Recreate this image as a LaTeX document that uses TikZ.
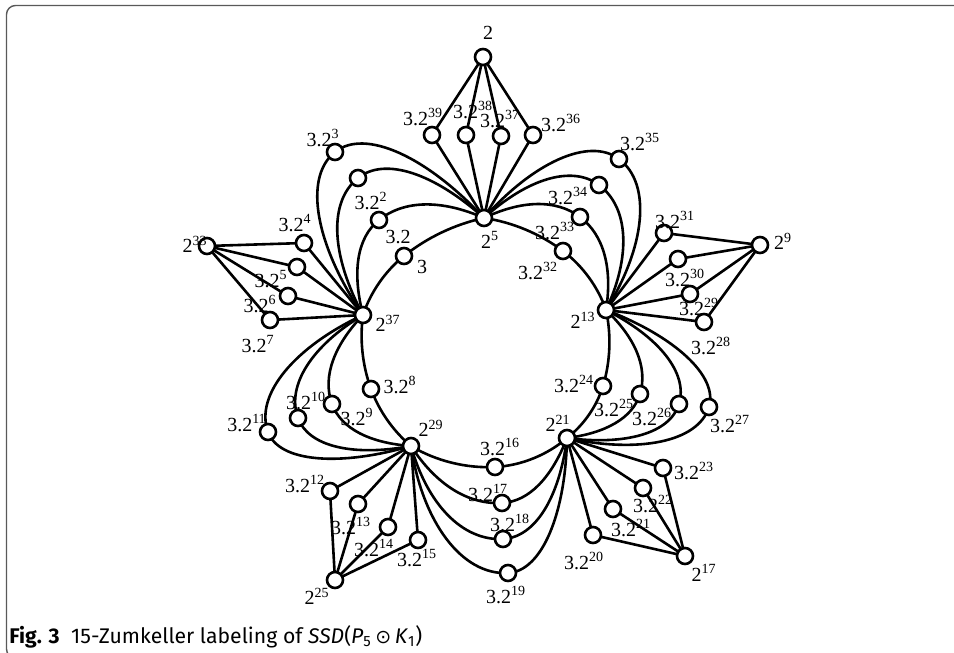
\documentclass[tikz,border=0pt]{standalone}
\usepackage{fontspec}
\setmainfont{Liberation Serif}
\newfontfamily\capfont{Fira Sans}
\newfontfamily\symfont{DejaVu Sans}
\pgfdeclarelayer{bg}
\pgfsetlayers{bg,main}
\begin{document}
\begin{tikzpicture}[x=0.5pt,y=0.5pt,
  v/.style={circle,draw,fill=white,line width=1.3pt,minimum size=8pt,inner sep=0pt},
  e/.style={line width=1.3pt},
  lab/.style={inner sep=0pt,font=\fontsize{10}{12}\selectfont},
  frame/.style={draw=gray!70!black,line width=0.7pt,rounded corners=4.5pt}]
\useasboundingbox (0,0) rectangle (954,-653);
\draw[frame] (1000,-5.5) -- (6.5,-5.5) -- (6.5,-658) -- (1000,-658);
% hubs
\node[v] (h5)  at (484,-218) {};
\node[v] (h13) at (606,-310) {};
\node[v] (h21) at (567,-438) {};
\node[v] (h29) at (411,-446) {};
\node[v] (h37) at (363,-315) {};
% outer pendant vertices
\node[v] (o2)  at (483,-57) {};
\node[v] (o9)  at (760,-245) {};
\node[v] (o17) at (685,-556) {};
\node[v] (o25) at (335,-580) {};
\node[v] (o33) at (207,-246) {};
% pendant leaves
\node[v] (l5a) at (432,-135) {};
\node[v] (l5b) at (466,-135) {};
\node[v] (l5c) at (501,-136) {};
\node[v] (l5d) at (533,-135) {};
\node[v] (l13a) at (664,-233) {};
\node[v] (l13b) at (678,-259) {};
\node[v] (l13c) at (690,-294) {};
\node[v] (l13d) at (704,-322) {};
\node[v] (l21a) at (663,-468) {};
\node[v] (l21b) at (643,-488) {};
\node[v] (l21c) at (613,-509) {};
\node[v] (l21d) at (593,-535) {};
\node[v] (l29a) at (330,-491) {};
\node[v] (l29b) at (358,-504) {};
\node[v] (l29c) at (388,-527) {};
\node[v] (l29d) at (418,-540) {};
\node[v] (l37a) at (304,-243) {};
\node[v] (l37b) at (297,-267) {};
\node[v] (l37c) at (288,-296) {};
\node[v] (l37d) at (270,-320) {};
% petal vertices
\node[v] (p1a) at (404,-256) {};
\node[v] (p1b) at (379,-220) {};
\node[v] (p1c) at (358,-178) {};
\node[v] (p1d) at (335,-152) {};
\node[v] (p2a) at (563,-251) {};
\node[v] (p2b) at (580,-217) {};
\node[v] (p2c) at (599,-185) {};
\node[v] (p2d) at (619,-159) {};
\node[v] (p3a) at (603,-386) {};
\node[v] (p3b) at (640,-394) {};
\node[v] (p3c) at (679,-404) {};
\node[v] (p3d) at (709,-407) {};
\node[v] (p4a) at (495,-467) {};
\node[v] (p4b) at (502,-503) {};
\node[v] (p4c) at (503,-539) {};
\node[v] (p4d) at (508,-573) {};
\node[v] (p5a) at (371,-389) {};
\node[v] (p5b) at (332,-404) {};
\node[v] (p5c) at (298,-418) {};
\node[v] (p5d) at (268,-432) {};
\begin{pgfonlayer}{bg}
% pendants
\foreach \o/\h/\l in {o2/h5/l5, o9/h13/l13, o17/h21/l21, o25/h29/l29, o33/h37/l37}{
  \foreach \s in {a,b,c,d}{
    \draw[e] (\o.center) -- (\l\s.center) -- (\h.center);
  }
}
% petal P1 (h37 -> h5)
\draw[e] (h37.center) .. controls +(71.7:24) and +(218.7:24) .. (p1a.center) .. controls +(38.7:29.5) and +(192:29.5) .. (h5.center);
\draw[e] (h37.center) .. controls +(104.4:43.7) and +(218.7:28.8) .. (p1b.center) .. controls +(38.7:33.2) and +(156.2:44.9) .. (h5.center);
\draw[e] (h37.center) .. controls +(118.2:67.2) and +(218.7:38.5) .. (p1c.center) .. controls +(38.7:34.4) and +(138.1:67) .. (h5.center);
\draw[e] (h37.center) .. controls +(124.3:82.8) and +(218.7:41.7) .. (p1d.center) .. controls +(38.7:38.9) and +(132.9:82.7) .. (h5.center);
% petal P2 (h5 -> h13)
\draw[e] (h5.center) .. controls +(-8.2:28.5) and +(143:28.5) .. (p2a.center) .. controls +(-37:24.4) and +(109.1:24.4) .. (h13.center);
\draw[e] (h5.center) .. controls +(25.4:41) and +(143:30.4) .. (p2b.center) .. controls +(-37:30.7) and +(80.9:41.1) .. (h13.center);
\draw[e] (h5.center) .. controls +(42.3:58.3) and +(143:33.8) .. (p2c.center) .. controls +(-37:38) and +(64.9:58.6) .. (h13.center);
\draw[e] (h5.center) .. controls +(48.5:73.4) and +(143:37.5) .. (p2d.center) .. controls +(-37:41.9) and +(58:73.5) .. (h13.center);
% petal P3 (h13 -> h21)
\draw[e] (h13.center) .. controls +(-77.7:25.4) and +(73.1:25.4) .. (p3a.center) .. controls +(-106.9:21.1) and +(37.7:21.1) .. (h21.center);
\draw[e] (h13.center) .. controls +(-43.4:39.4) and +(73.1:28.2) .. (p3b.center) .. controls +(-106.9:25.3) and +(7.2:38.7) .. (h21.center);
\draw[e] (h13.center) .. controls +(-26.9:59.3) and +(73.1:32.3) .. (p3c.center) .. controls +(-106.9:30.6) and +(-7.4:59.2) .. (h21.center);
\draw[e] (h13.center) .. controls +(-20.9:72.5) and +(73.1:32.7) .. (p3d.center) .. controls +(-106.9:36.9) and +(-12.4:72.5) .. (h21.center);
% petal P4 (h21 -> h29)
\draw[e] (h21.center) .. controls +(-139.1:25.9) and +(2.9:25.9) .. (p4a.center) .. controls +(-177.1:28.9) and +(-31.1:28.9) .. (h29.center);
\draw[e] (h21.center) .. controls +(-111.2:41.9) and +(2.9:27.3) .. (p4b.center) .. controls +(-177.1:35.2) and +(-57.2:44.1) .. (h29.center);
\draw[e] (h21.center) .. controls +(-97.2:59.5) and +(2.9:32.5) .. (p4c.center) .. controls +(-177.1:40.9) and +(-74.5:60) .. (h29.center);
\draw[e] (h21.center) .. controls +(-91.1:75.4) and +(2.9:34.2) .. (p4d.center) .. controls +(-177.1:47) and +(-81.6:75.5) .. (h29.center);
% petal P5 (h29 -> h37)
\draw[e] (h29.center) .. controls +(140:23.2) and +(-69.9:23.2) .. (p5a.center) .. controls +(110.1:24.8) and +(262.1:24.8) .. (h37.center);
\draw[e] (h29.center) .. controls +(175.9:40.7) and +(-69.9:26.6) .. (p5b.center) .. controls +(110.1:29.2) and +(226.2:41.3) .. (h37.center);
\draw[e] (h29.center) .. controls +(190.5:58.7) and +(-69.9:30.6) .. (p5c.center) .. controls +(110.1:34.9) and +(211:59) .. (h37.center);
\draw[e] (h29.center) .. controls +(196.2:74) and +(-69.9:32.4) .. (p5d.center) .. controls +(110.1:40.1) and +(204.9:74.1) .. (h37.center);
\end{pgfonlayer}
% labels
\node[lab] (t-o2) at (488,-33) {2};
\node[lab] (t-l5a) at (423,-117) {3.2\textsuperscript{39}};
\node[lab] (t-l5b) at (473,-110) {3.2\textsuperscript{38}};
\node[lab] (t-l5c) at (500,-119) {3.2\textsuperscript{37}};
\node[lab] (t-l5d) at (561,-123) {3.2\textsuperscript{36}};
\node[lab] (t-h5) at (490,-240) {2\textsuperscript{5}};
\node[lab] (t-p2d) at (640,-142) {3.2\textsuperscript{35}};
\node[lab] (t-p2b) at (568,-196) {3.2\textsuperscript{34}};
\node[lab] (t-p2a) at (555,-231) {3.2\textsuperscript{33}};
\node[lab] (t-q32) at (538,-271) {3.2\textsuperscript{32}};
\node[lab] (t-l13a) at (675,-220) {3.2\textsuperscript{31}};
\node[lab] (t-o9) at (783,-241) {2\textsuperscript{9}};
\node[lab] (t-l13c) at (685,-278) {3.2\textsuperscript{30}};
\node[lab] (t-l13d) at (699,-307) {3.2\textsuperscript{29}};
\node[lab] (t-q28) at (711,-346) {3.2\textsuperscript{28}};
\node[lab] (t-h13) at (583,-320) {2\textsuperscript{13}};
\node[lab] (t-p3a) at (574,-384) {3.2\textsuperscript{24}};
\node[lab] (t-p3b) at (614,-408) {3.2\textsuperscript{25}};
\node[lab] (t-p3c) at (652,-417) {3.2\textsuperscript{26}};
\node[lab] (t-p3d) at (730,-424) {3.2\textsuperscript{27}};
\node[lab] (t-h21) at (558,-423) {2\textsuperscript{21}};
\node[lab] (t-l21a) at (694,-471) {3.2\textsuperscript{23}};
\node[lab] (t-l21b) at (653,-504) {3.2\textsuperscript{22}};
\node[lab] (t-l21c) at (631,-528) {3.2\textsuperscript{21}};
\node[lab] (t-l21d) at (584,-561) {3.2\textsuperscript{20}};
\node[lab] (t-o17) at (704,-573) {2\textsuperscript{17}};
\node[lab] (t-p4a) at (500,-447) {3.2\textsuperscript{16}};
\node[lab] (t-p4b) at (488,-493) {3.2\textsuperscript{17}};
\node[lab] (t-p4c) at (510,-523) {3.2\textsuperscript{18}};
\node[lab] (t-p4d) at (506,-595) {3.2\textsuperscript{19}};
\node[lab] (t-h29) at (431,-428) {2\textsuperscript{29}};
\node[lab] (t-p5a) at (400,-385) {3.2\textsuperscript{8}};
\node[lab] (t-p5b) at (357,-417) {3.2\textsuperscript{9}};
\node[lab] (t-p5c) at (306,-401) {3.2\textsuperscript{10}};
\node[lab] (t-p5d) at (247,-423) {3.2\textsuperscript{11}};
\node[lab] (t-l29a) at (305,-484) {3.2\textsuperscript{12}};
\node[lab] (t-l29b) at (351,-526) {3.2\textsuperscript{13}};
\node[lab] (t-l29c) at (374,-548) {3.2\textsuperscript{14}};
\node[lab] (t-l29d) at (417,-558) {3.2\textsuperscript{15}};
\node[lab] (t-o25) at (317,-596) {2\textsuperscript{25}};
\node[lab] (t-h37) at (388,-323) {2\textsuperscript{37}};
\node[lab] (t-p1a) at (398,-237) {3.2};
\node[lab] (t-p1x) at (422,-267) {3};
\node[lab] (t-p1b) at (371,-201) {3.2\textsuperscript{2}};
\node[lab] (t-p1d) at (323,-138) {3.2\textsuperscript{3}};
\node[lab] (t-l37a) at (295,-223) {3.2\textsuperscript{4}};
\node[lab] (t-l37c) at (271,-279) {3.2\textsuperscript{5}};
\node[lab] (t-l37d) at (260,-304) {3.2\textsuperscript{6}};
\node[lab] (t-q7) at (258,-344) {3.2\textsuperscript{7}};
\node[lab] (t-o33) at (195,-244) {2\textsuperscript{33}};
% caption
\node[anchor=base west,inner sep=0pt,font=\capfont\fontsize{10.6}{13}\selectfont] (cap) at (9,-643)
  {\textbf{Fig. 3}\hspace{0.55em}15-Zumkeller labeling of \textit{SSD}(\textit{P}\textsubscript{5}\,{\symfont\fontsize{9.5}{12}\selectfont ⊙}\,\textit{K}\textsubscript{1})};
\end{tikzpicture}
\end{document}
